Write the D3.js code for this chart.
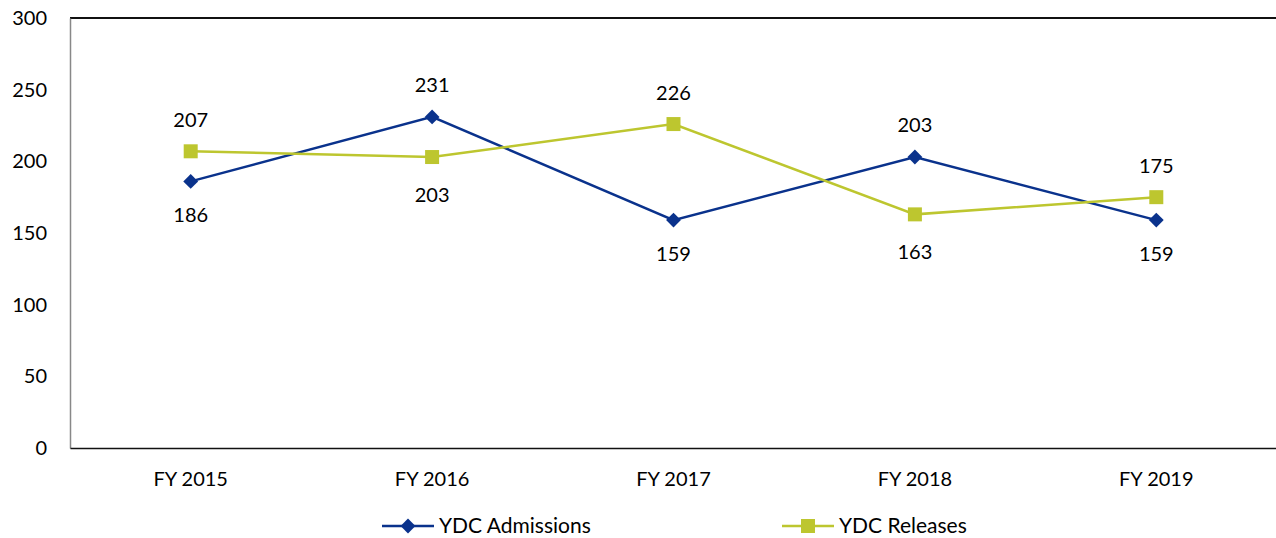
<!DOCTYPE html>
<html>
<head>
<meta charset="utf-8">
<script src="https://d3js.org/d3.v7.min.js"></script>
<style>
  body { margin: 0; background: #fff; }
  text { font-family: Lato, "Liberation Sans", sans-serif; fill: #000; }
</style>
</head>
<body>
<div id="chartDiv"></div>
<script>
const years = ['FY 2015', 'FY 2016', 'FY 2017', 'FY 2018', 'FY 2019'];
const admissions = [186, 231, 159, 203, 159];
const releases = [207, 203, 226, 163, 175];
const yTicks = [0, 50, 100, 150, 200, 250, 300];
// label above (-1) or below (1) each point
const admPos = [1, -1, 1, -1, 1];
const relPos = [-1, 1, -1, 1, -1];

const canvasW = 1276, canvasH = 538;
const margin = {top: 18, right: -1, bottom: 90, left: 70};
const graphWidth = canvasW - margin.left - margin.right;
const graphHeight = canvasH - margin.top - margin.bottom;

const svg = d3.select('#chartDiv').append('svg')
  .attr('width', canvasW).attr('height', canvasH);

const graph = svg.append('g')
  .attr('transform', `translate(${margin.left},${margin.top})`);

const x = d3.scaleBand().domain(years).range([0, graphWidth]);
const y = d3.scaleLinear().domain([0, 300]).range([graphHeight, 0]);
const cx = d => x(d) + x.bandwidth() / 2;

// frame: top border, grey left axis
graph.append('line').attr('x1', 0).attr('x2', graphWidth + 2)
  .attr('y1', 0).attr('y2', 0).attr('stroke', '#111').attr('stroke-width', 2);

const yAxis = d3.axisLeft(y).tickValues(yTicks).tickSize(0).tickPadding(23);
const yAxisGroup = graph.append('g').call(yAxis);
yAxisGroup.select('.domain').attr('stroke', '#888').attr('stroke-width', 1.5);
yAxisGroup.selectAll('text').attr('font-size', 20);

const xAxis = d3.axisBottom(x).tickSize(0).tickPadding(24);
const xAxisGroup = graph.append('g').attr('transform', `translate(0,${graphHeight})`).call(xAxis);
xAxisGroup.select('.domain').attr('stroke', '#111').attr('stroke-width', 1.5);
xAxisGroup.selectAll('text').attr('font-size', 20);

// diamond = square turned 45 degrees
const series = [
  {name: 'YDC Admissions', values: admissions, pos: admPos, color: '#0A328C', shape: d3.symbolSquare, size: 110, rot: 45, above: 32, below: 34},
  {name: 'YDC Releases', values: releases, pos: relPos, color: '#BDC62F', shape: d3.symbolSquare, size: 196, rot: 0, above: 31, below: 38}
];

const line = d3.line().x((d, i) => cx(years[i])).y(d => y(d));

series.forEach(s => {
  graph.append('path').datum(s.values)
    .attr('d', line).attr('fill', 'none')
    .attr('stroke', s.color).attr('stroke-width', 2.5);

  graph.selectAll(null).data(s.values).enter().append('path')
    .attr('d', d3.symbol().type(s.shape).size(s.size))
    .attr('transform', (d, i) => `translate(${cx(years[i])},${y(d)}) rotate(${s.rot})`)
    .attr('fill', s.color);

  graph.selectAll(null).data(s.values).enter().append('text')
    .attr('x', (d, i) => cx(years[i]))
    .attr('y', (d, i) => y(d) + (s.pos[i] > 0 ? s.below : -s.above))
    .attr('dy', '0.35em')
    .attr('text-anchor', 'middle')
    .attr('font-size', 20)
    .text(d => d);
});

// legend
const legendX = [382, 782];
const legend = svg.selectAll('.legend').data(series).enter().append('g')
  .attr('transform', (d, i) => `translate(${legendX[i]},526)`);
legend.append('line').attr('x1', 0).attr('x2', 52)
  .attr('stroke', d => d.color).attr('stroke-width', 2.5);
legend.append('path')
  .attr('d', d => d3.symbol().type(d.shape).size(d.size)())
  .attr('transform', d => `translate(26,0) rotate(${d.rot})`)
  .attr('fill', d => d.color);
legend.append('text').attr('x', 57).attr('dy', '0.35em')
  .attr('font-size', 21).text(d => d.name);
</script>
</body>
</html>
